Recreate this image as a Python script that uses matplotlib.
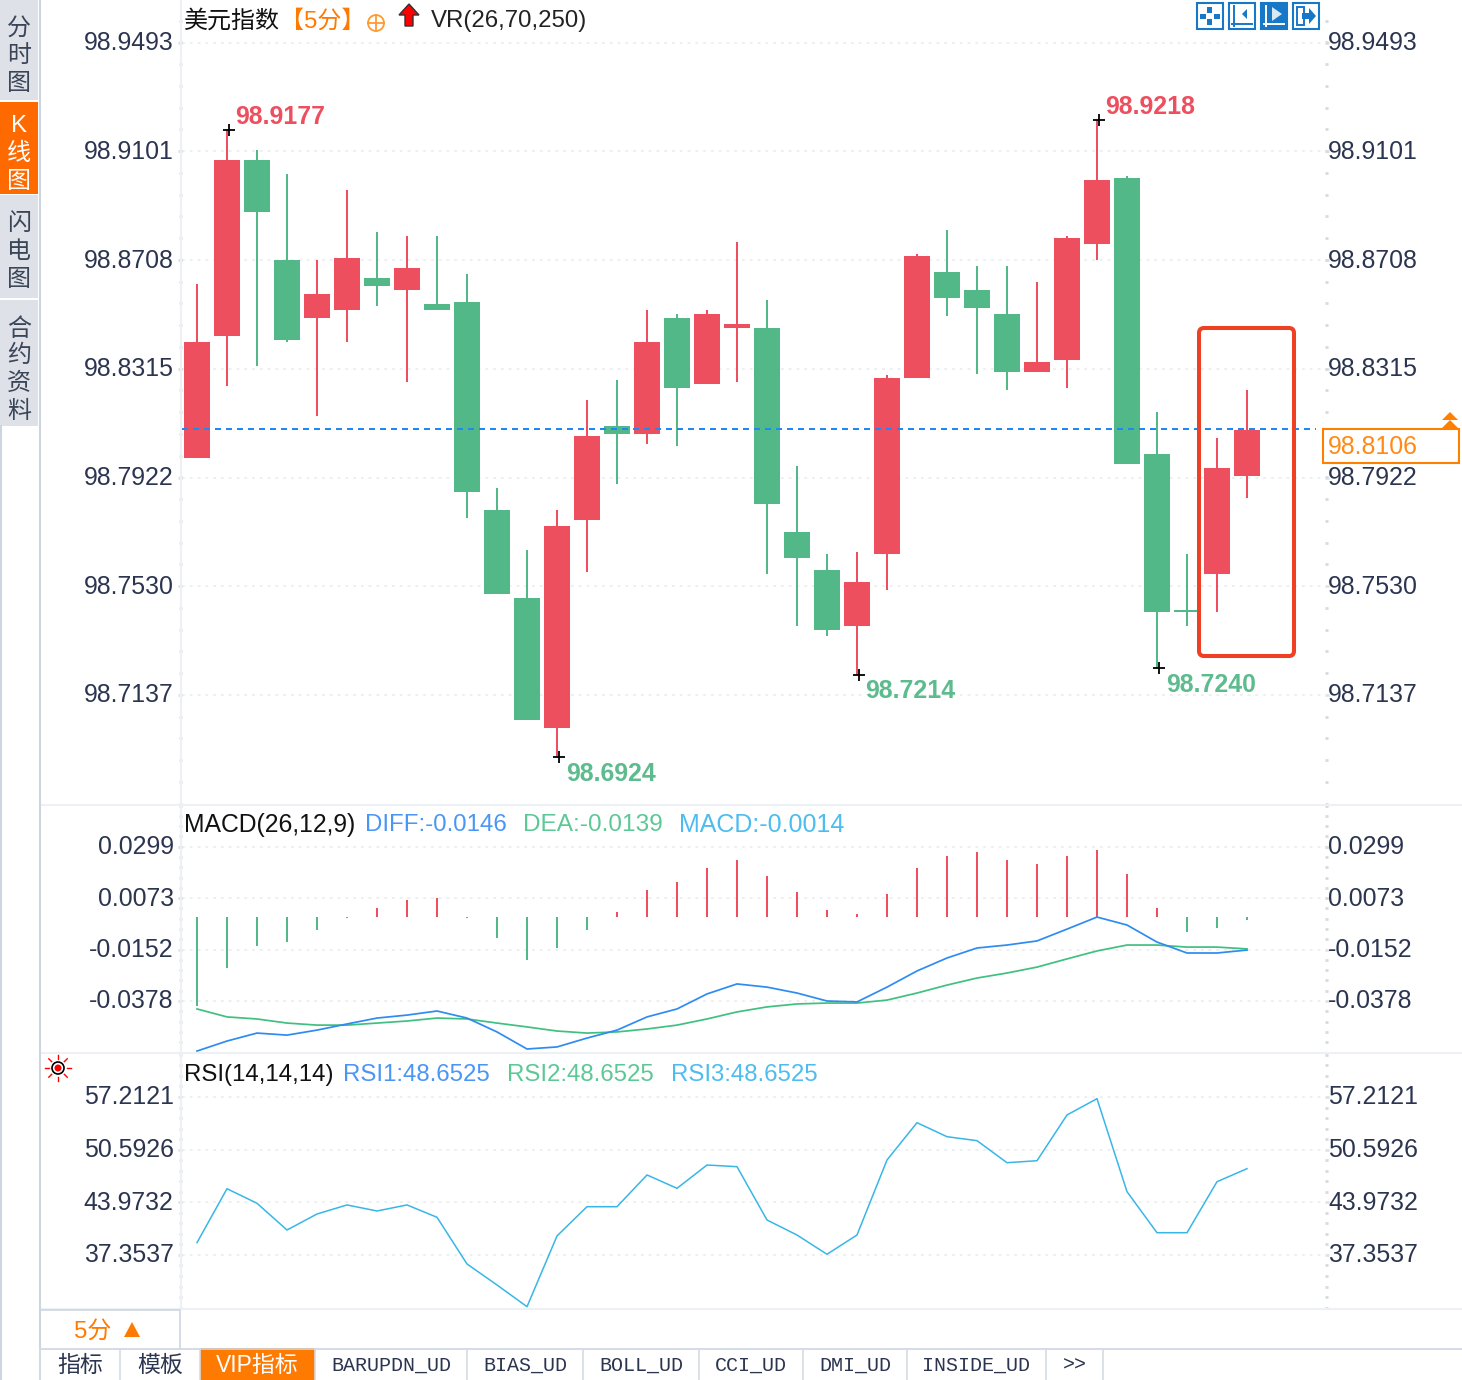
import numpy as np
import matplotlib
matplotlib.use('Agg')
import matplotlib.pyplot as plt
from matplotlib.patches import Rectangle, FancyBboxPatch, Polygon, Circle
from matplotlib.transforms import ScaledTranslation

plt.rcParams['font.family'] = ['Liberation Sans', 'Noto Sans CJK SC', 'DejaVu Sans']

# candles
opens = [98.7993, 98.8434, 98.9070, 98.8709, 98.8499, 98.8528, 98.8643, 98.8600, 98.8549, 98.8557, 98.7805, 98.7487,
         98.7017, 98.7769, 98.8109, 98.8080, 98.8499, 98.8260, 98.8463, 98.8463, 98.7726, 98.7588, 98.7386, 98.7646,
         98.8282, 98.8665, 98.8600, 98.8513, 98.8304, 98.8347, 98.8766, 98.9005, 98.8008, 98.7444, 98.7574, 98.7928]
closes = [98.8412, 98.9070, 98.8882, 98.8419, 98.8586, 98.8716, 98.8615, 98.8680, 98.8528, 98.7870, 98.7502, 98.7046,
          98.7747, 98.8073, 98.8080, 98.8412, 98.8246, 98.8513, 98.8477, 98.7827, 98.7632, 98.7372, 98.7545, 98.8282,
          98.8723, 98.8571, 98.8535, 98.8304, 98.8340, 98.8788, 98.8998, 98.7971, 98.7437, 98.7437, 98.7957, 98.8094]
highs = [98.8622, 98.9178, 98.9106, 98.9019, 98.8709, 98.8961, 98.8810, 98.8795, 98.8795, 98.8658, 98.7885, 98.7661,
         98.7805, 98.8203, 98.8275, 98.8528, 98.8513, 98.8528, 98.8774, 98.8564, 98.7964, 98.7646, 98.7653, 98.8293,
         98.8730, 98.8817, 98.8687, 98.8687, 98.8629, 98.8795, 98.9214, 98.9012, 98.8159, 98.7646, 98.8065, 98.8239]
lows = [98.7993, 98.8253, 98.8325, 98.8412, 98.8145, 98.8412, 98.8542, 98.8268, 98.8528, 98.7776, 98.7502, 98.7046,
        98.6913, 98.7581, 98.7899, 98.8044, 98.8036, 98.8260, 98.8268, 98.7574, 98.7386, 98.7350, 98.7209, 98.7516,
        98.8282, 98.8506, 98.8297, 98.8239, 98.8304, 98.8246, 98.8709, 98.7971, 98.7234, 98.7386, 98.7437, 98.7848]
last_price = 98.8098

# MACD panel
macd_hist = [-0.0391, -0.0224, -0.0127, -0.0110, -0.0057, -0.0004, 0.0040, 0.0075, 0.0084, -0.0004, -0.0092, -0.0189,
             -0.0136, -0.0057, 0.0022, 0.0119, 0.0154, 0.0215, 0.0251, 0.0180, 0.0110, 0.0031, 0.0013, 0.0101,
             0.0215, 0.0268, 0.0286, 0.0251, 0.0233, 0.0268, 0.0295, 0.0189, 0.0040, -0.0066, -0.0048, -0.0013]
diff = [-0.0598, -0.0554, -0.0519, -0.0528, -0.0506, -0.0479, -0.0453, -0.0440, -0.0422, -0.0453, -0.0514, -0.0589,
        -0.0580, -0.0541, -0.0506, -0.0448, -0.0413, -0.0347, -0.0303, -0.0317, -0.0343, -0.0378, -0.0382, -0.0317,
        -0.0246, -0.0189, -0.0145, -0.0132, -0.0114, -0.0062, -0.0009, -0.0044, -0.0119, -0.0167, -0.0167, -0.0154]
dea = [-0.0413, -0.0448, -0.0457, -0.0475, -0.0484, -0.0484, -0.0475, -0.0466, -0.0453, -0.0457, -0.0475, -0.0492,
       -0.0510, -0.0519, -0.0514, -0.0501, -0.0484, -0.0457, -0.0426, -0.0404, -0.0391, -0.0387, -0.0387, -0.0374,
       -0.0343, -0.0308, -0.0277, -0.0255, -0.0229, -0.0193, -0.0158, -0.0132, -0.0132, -0.0141, -0.0141, -0.0149]
macd_zero = -0.0009

# RSI panel
rsi = [38.90, 45.68, 43.85, 40.49, 42.50, 43.64, 42.88, 43.64, 42.09, 36.22, 33.58, 30.85,
       39.74, 43.42, 43.42, 47.41, 45.73, 48.66, 48.45, 41.75, 39.86, 37.44, 39.86, 49.29,
       53.98, 52.22, 51.72, 48.95, 49.20, 54.95, 57.00, 45.31, 40.15, 40.15, 46.56, 48.20]

# tick labels
price_ticks = ['98.9493', '98.9101', '98.8708', '98.8315', '98.7922', '98.7530', '98.7137']
macd_ticks = ['0.0299', '0.0073', '-0.0152', '-0.0378']
rsi_ticks = ['57.2121', '50.5926', '43.9732', '37.3537']

tab_names = ['指标', '模板', 'VIP指标', 'BARUPDN_UD', 'BIAS_UD', 'BOLL_UD', 'CCI_UD', 'DMI_UD', 'INSIDE_UD', '>>']
tab_edges = [40, 120, 200, 315, 467, 583, 699, 803, 907, 1046, 1103]

RED = '#ED4F5F'
GREEN = '#53B887'
ORANGE = '#FF7A00'
TICK_COLOR = '#2B3550'
LINE_COLOR = '#EDF1F5'
FONT = 17.3
TICK_FONT = 17.9
W, H = 1462, 1380

fig = plt.figure(figsize=(W / 100, H / 100), dpi=100, facecolor='white')
lift = ScaledTranslation(0, 2 / 100, fig.dpi_scale_trans)


def style_ticks(ax, ticks, ylim, minor_step, left):
    values = [float(t) for t in ticks]
    ax.set_yticks(values)
    ax.set_yticklabels(ticks)
    ax.set_yticks(np.arange(values[-1] - minor_step * 20, values[0] + minor_step * 5, minor_step), minor=True)
    ax.set_ylim(*ylim)
    ax.set_xticks([])
    ax.tick_params(axis='y', which='major', length=3, width=2, color='#DDE3E8', pad=3 if left else -0.7,
                   labelsize=TICK_FONT, labelcolor=TICK_COLOR)
    ax.tick_params(axis='y', which='minor', length=2, width=2, color='#D5DBE0')
    for label in ax.get_yticklabels():
        label.set_transform(label.get_transform() + lift)
    for s in ax.spines.values():
        s.set_visible(False)


def panel(top, bottom, ylim, ticks, minor_step):
    # axes placed by pixel rows, all share the same x scale
    ax = fig.add_axes([182 / W, 1 - bottom / H, (1325 - 182) / W, (bottom - top) / H])
    ax.set_xlim(-0.5, 37.6)
    ax.patch.set_alpha(0)
    style_ticks(ax, ticks, ylim, minor_step, True)
    ax.grid(axis='y', which='major', color='#EDEFF1', linewidth=1.4, linestyle=(0, (1.5, 2.5)))
    ax.set_axisbelow(True)
    # the labels on the right sit closer to the axis than those on the left
    right = ax.twinx()
    style_ticks(right, ticks, ylim, minor_step, False)
    return ax


x = np.arange(len(opens))

# main candles
ax1 = panel(0, 805, (98.6739, 98.9648), price_ticks, 0.0393 / 5)
colors = [RED if c >= o else GREEN for o, c in zip(opens, closes)]
ax1.vlines(x, lows, highs, colors=colors, linewidth=1.44, zorder=2)
ax1.bar(x, np.abs(np.array(closes) - np.array(opens)), bottom=np.minimum(opens, closes), width=0.87,
        color=colors, zorder=3)
ax1.hlines(last_price, -0.5, 37.3, colors='#1E88F5', linewidth=1.44, linestyles=(0, (3, 2.5)), zorder=4)

# high / low markers
marks = [(1, highs[1], '98.9177', RED, 8, 13), (30, highs[30], '98.9218', RED, 8, 13),
         (12, lows[12], '98.6924', '#5DBB8E', 9, -17), (22, lows[22], '98.7214', '#5DBB8E', 8, -16),
         (32, lows[32], '98.7240', '#5DBB8E', 9, -17)]
for i, y, label, c, dx, dy in marks:
    ax1.plot(i + 0.06, y, marker='+', color='black', markersize=9, markeredgewidth=1.3, zorder=5)
    ax1.annotate(label, (i, y), xytext=(dx, dy), textcoords='offset pixels', color=c, fontsize=TICK_FONT,
                 fontweight='bold', ha='left', va='center', zorder=5)

# MACD
ax2 = panel(805, 1052, (-0.06022, 0.04836), macd_ticks, 0.0226 / 5)
hist_colors = [RED if v > 0 else GREEN for v in macd_hist]
ax2.vlines(x, macd_zero, macd_zero + np.array(macd_hist), colors=hist_colors, linewidth=1.44)
ax2.plot(x, dea, color='#40C080', linewidth=1.25)
ax2.plot(x, diff, color='#2E8CF0', linewidth=1.25)

# RSI
ax3 = panel(1053, 1309, (30.56, 62.74), rsi_ticks, 6.6195 / 5)
ax3.plot(x, rsi, color='#38B6E8', linewidth=1.1)

# everything around the charts goes on a pixel overlay
ov = fig.add_axes([0, 0, 1, 1], zorder=10)
ov.set_xlim(0, W)
ov.set_ylim(H, 0)
ov.axis('off')

# panel separators
for yy in [805, 1053, 1309]:
    ov.plot([40, W], [yy, yy], color=LINE_COLOR, linewidth=1.5)
ov.plot([181, 181], [0, 1309], color=LINE_COLOR, linewidth=1.5)
ov.plot([39.5, 39.5], [0, 1380], color='#CDD6E0', linewidth=1.5)
ov.plot([1, 1], [426, 1380], color='#CDD6E0', linewidth=1.5)

# left sidebar
side = [(0, 100, '#DFE1E8', '分时图', [29, 56, 84], '#3A4658'),
        (102, 194, '#FF6A00', 'K线图', [126, 154, 182], 'white'),
        (195, 298, '#DFE1E8', '闪电图', [224, 252, 280], '#3A4658'),
        (300, 426, '#DFE1E8', '合约资料', [330, 356, 384, 412], '#3A4658')]
for y0, y1, c, label, ys, tc in side:
    ov.add_patch(Rectangle((0, y0), 38, y1 - y0, color=c, lw=0))
    for ch, yy in zip(label, ys):
        ov.text(19, yy, ch, color=tc, fontsize=FONT, ha='center', va='center')

# header of the main panel
ov.text(184, 21, '美元指数', color='#111111', fontsize=FONT, va='center')
ov.text(280, 21, '【5分】', color=ORANGE, fontsize=FONT, va='center')
ov.add_patch(Circle((376, 23), 8, fill=False, edgecolor='#FF9A30', linewidth=1.3))
ov.plot([368, 384], [23, 23], color='#FF9A30', linewidth=1.3)
ov.plot([376, 376], [15, 31], color='#FF9A30', linewidth=1.3)
ov.add_patch(Polygon([(399, 15), (409, 4), (419, 15), (413, 15), (413, 26), (405, 26), (405, 15)],
                     facecolor='red', edgecolor='#333333', linewidth=1))
ov.text(431, 21, 'VR(26,70,250)', color='#222222', fontsize=FONT, va='center')

# legends
for xx, yy, label, c, size in [(184, 825, 'MACD(26,12,9)', '#111111', 17.8), (365, 825, 'DIFF:-0.0146', '#4A96F5', FONT),
                               (523, 825, 'DEA:-0.0139', '#5CC896', 17.55), (679, 825, 'MACD:-0.0014', '#4DBDF0', 18),
                               (184, 1075, 'RSI(14,14,14)', '#111111', FONT), (343, 1075, 'RSI1:48.6525', '#4A96F5', FONT),
                               (507, 1075, 'RSI2:48.6525', '#5CC896', FONT), (671, 1075, 'RSI3:48.6525', '#4DBDF0', FONT)]:
    ov.text(xx, yy, label, color=c, fontsize=size, va='center')

# toolbar icons top right
BLUE = '#1878C8'
for n, xx in enumerate([1197, 1229, 1261, 1293]):
    ov.add_patch(Rectangle((xx, 3), 26, 26, facecolor=BLUE if n == 2 else 'white', edgecolor=BLUE, linewidth=1.5))
for dx, dy, w, h in [(10, 4, 5, 6), (10, 16, 5, 6), (3, 11, 6, 5), (17, 11, 6, 5)]:
    ov.add_patch(Rectangle((1197 + dx, 3 + dy), w, h, color=BLUE, lw=0))
ov.plot([1234, 1234], [6, 26], color=BLUE, linewidth=1.4)
ov.plot([1232, 1252], [24, 24], color=BLUE, linewidth=1.4)
ov.add_patch(Polygon([(1242, 14), (1247, 9), (1247, 19)], color=BLUE, lw=0))
ov.plot([1266, 1266], [6, 26], color='white', linewidth=1.4)
ov.plot([1264, 1284], [24, 24], color='white', linewidth=1.4)
ov.add_patch(Polygon([(1272, 7), (1282, 14), (1272, 21)], color='#D8E8F5', lw=0))
ov.add_patch(Rectangle((1297, 7), 7, 18, fill=False, edgecolor=BLUE, linewidth=1.4))
ov.add_patch(Polygon([(1302, 13), (1309, 13), (1309, 8), (1316, 16), (1309, 24), (1309, 19), (1302, 19)],
                     color=BLUE, lw=0))

# highlight box around the last two candles
ov.add_patch(FancyBboxPatch((1203, 332), 87, 320, boxstyle='round,pad=4,rounding_size=5', fill=False,
                            edgecolor='#EE4023', linewidth=2.9))

# current price tag
ov.add_patch(Rectangle((1323, 429), 136, 34, facecolor='white', edgecolor='#FF7F00', linewidth=1.5))
ov.text(1328, 447, '98.8106', color='#FF8A14', fontsize=TICK_FONT, va='center')
ov.add_patch(Polygon([(1442, 420), (1450, 412), (1458, 420)], color='#FF7F00', lw=0))
ov.add_patch(Polygon([(1442, 428), (1450, 420), (1458, 428)], color='#FF7F00', lw=0))

# indicator sun icon
ov.add_patch(Circle((58, 1068), 6, fill=False, edgecolor='black', linewidth=1.2))
ov.add_patch(Circle((58, 1068), 3.5, color='red', lw=0))
for a in np.arange(8) * np.pi / 4:
    ov.plot([58 + 9 * np.cos(a), 58 + 13 * np.cos(a)], [1068 + 9 * np.sin(a), 1068 + 13 * np.sin(a)],
            color='red', linewidth=1)

# period selector and tab strip
ov.plot([40, 180, 180], [1310, 1310, 1348], color='#CDD6E0', linewidth=1.2)
ov.text(74, 1332, '5分', color=ORANGE, fontsize=FONT, va='center')
ov.add_patch(Polygon([(124, 1337), (132, 1322), (140, 1337)], color=ORANGE, lw=0))
ov.plot([40, W], [1348.5, 1348.5], color='#CDD6E0', linewidth=1.2)
for e in tab_edges:
    ov.plot([e, e], [1349, 1380], color='#D5DBE0', linewidth=1.2)
ov.add_patch(Rectangle((200, 1348), 115, 32, color=ORANGE, lw=0))
for name, a, b in zip(tab_names, tab_edges[:-1], tab_edges[1:]):
    c = 'white' if name == 'VIP指标' else '#2B3550'
    if name.isascii():
        ov.text((a + b) / 2, 1365, name, color=c, fontsize=14.4, ha='center', va='center', family='Liberation Mono')
    else:
        ov.text((a + b) / 2, 1365, name, color=c, fontsize=16.5, ha='center', va='center')

fig.savefig('out.png', dpi=100)
